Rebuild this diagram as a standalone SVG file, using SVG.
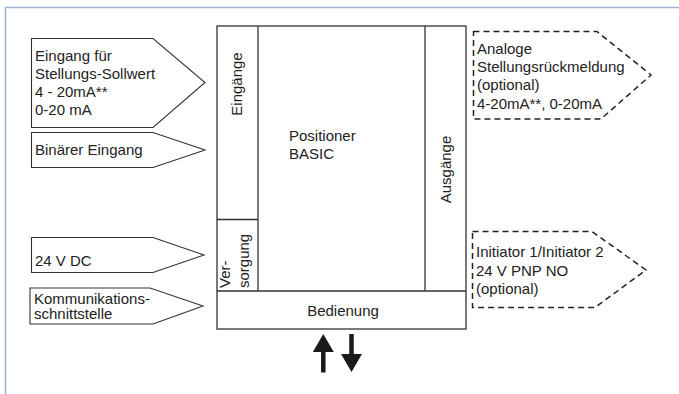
<svg xmlns="http://www.w3.org/2000/svg" width="679" height="394" viewBox="0 0 679 394">
<style>
text{font-family:"Liberation Sans",Arial,sans-serif;font-size:15px;fill:#222}
.frame{fill:none;stroke:#9fb4d4;stroke-width:1.5}
.box{fill:#fff;stroke:#333;stroke-width:1.3}
.in{fill:#fff;stroke:#333;stroke-width:1.1}
.out{fill:#fff;stroke:#222;stroke-width:1.5;stroke-dasharray:6 4}
.arr{stroke:#1a1a1a;stroke-width:4.5;fill:none}
</style>
<defs>
<marker id="head" viewBox="0 0 18 21" markerWidth="18" markerHeight="21" refX="0" refY="10.5" orient="auto" markerUnits="userSpaceOnUse">
<path d="M0,0 L18,10.5 L0,21 Z" fill="#1a1a1a"/>
</marker>
</defs>
<path class="frame" d="M5.5,394 V7.5 H679"/>

<g id="positioner">
<rect class="box" x="217" y="26" width="249" height="303"/>
<path class="box" d="M258,26 V291 M425,26 V291 M217,291 H466 M217,219.5 H258" fill="none"/>
<text x="289" y="141">Positioner</text>
<text x="289" y="159">BASIC</text>
</g>
<g id="eingaenge">
<text transform="translate(242,84) rotate(-90)" text-anchor="middle">Eingänge</text>
</g>
<g id="ausgaenge">
<text transform="translate(451,169.5) rotate(-90)" text-anchor="middle">Ausgänge</text>
</g>
<g id="versorgung">
<text transform="translate(230,288) rotate(-90)">Ver-</text>
<text transform="translate(248.5,288) rotate(-90)">sorgung</text>
</g>
<g id="bedienung">
<text x="343" y="316" text-anchor="middle">Bedienung</text>
</g>

<g id="in-sollwert">
<polygon class="in" points="31.5,38.5 153,38.5 205,82.5 153,127.5 31.5,127.5"/>
<text x="35" y="61">Eingang für</text>
<text x="35" y="79">Stellungs-Sollwert</text>
<text x="35" y="97">4 - 20mA**</text>
<text x="35" y="115">0-20 mA</text>
</g>
<g id="in-binaer">
<polygon class="in" points="31.5,132.5 153,132.5 205,150 153,167.5 31.5,167.5"/>
<text x="35" y="154.5">Binärer Eingang</text>
</g>
<g id="in-24v">
<polygon class="in" points="31.5,237.5 153,237.5 204,255 153,272.5 31.5,272.5"/>
<text x="35" y="266">24 V DC</text>
</g>
<g id="in-komm">
<polygon class="in" points="30,288 150,288 203,306 153,324 30,324"/>
<text x="34" y="303.5">Kommunikations-</text>
<text x="34" y="319">schnittstelle</text>
</g>

<g id="out-analog">
<polygon class="out" points="473.5,31.5 597,31.5 651,75 601,119 473.5,119"/>
<text x="477" y="54">Analoge</text>
<text x="477" y="72">Stellungsrückmeldung</text>
<text x="477" y="90">(optional)</text>
<text x="477" y="108.5">4-20mA**, 0-20mA</text>
</g>
<g id="out-initiator">
<polygon class="out" points="472.5,231.5 592,231.5 646,270 595,307.5 472.5,307.5"/>
<text x="476" y="257">Initiator 1/Initiator 2</text>
<text x="476" y="275.5">24 V PNP NO</text>
<text x="476" y="294">(optional)</text>
</g>

<g id="connectors">
<line class="arr" x1="323.3" y1="372.5" x2="323.3" y2="352" marker-end="url(#head)"/>
<line class="arr" x1="351.5" y1="334" x2="351.5" y2="354" marker-end="url(#head)"/>
</g>
</svg>
